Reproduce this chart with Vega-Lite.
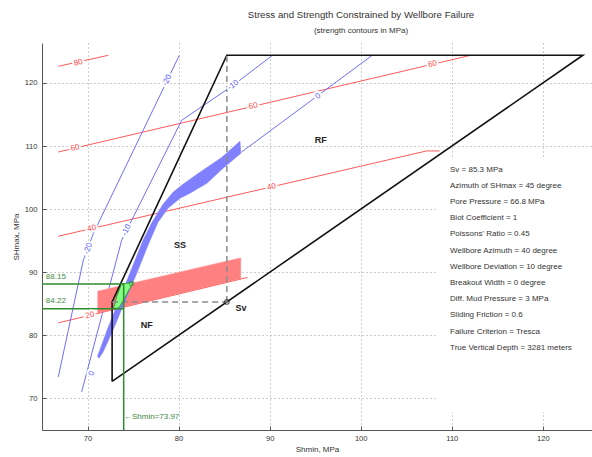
{
  "$schema": "https://vega.github.io/schema/vega-lite/v6.json",
  "width": 550,
  "height": 387,
  "autosize": {"type": "none"},
  "padding": {"left": 42, "top": 43, "right": 0, "bottom": 27},
  "background": "white",
  "title": {
    "text": "Stress and Strength Constrained by Wellbore Failure",
    "subtitle": "(strength contours in MPa)",
    "font": "Liberation Sans",
    "subtitleFont": "Liberation Sans",
    "fontSize": 9.7,
    "subtitleFontSize": 8,
    "fontWeight": "normal",
    "color": "#333333",
    "subtitleColor": "#333333",
    "anchor": "middle",
    "dx": 44,
    "offset": 8,
    "subtitlePadding": 7
  },
  "config": {
    "view": {"stroke": null},
    "font": "Liberation Sans",
    "axis": {
      "domainColor": "#555555",
      "tickColor": "#555555",
      "tickSize": -4,
      "labelColor": "#333333",
      "labelFont": "Liberation Sans",
      "labelFontSize": 7.6,
      "titleFont": "Liberation Sans",
      "titleFontSize": 8,
      "titleFontWeight": "normal",
      "titleColor": "#333333",
      "gridColor": "#9a9a9a",
      "gridDash": [1, 3],
      "gridWidth": 1
    }
  },
  "datasets": {
    "strength": [
      {"c": "80", "o": 1, "x": 66.79, "y": 122.65},
      {"c": "80", "o": 2, "x": 72.28, "y": 124.39},
      {"c": "60", "o": 1, "x": 66.79, "y": 109.07},
      {"c": "60", "o": 2, "x": 112.17, "y": 124.42},
      {"c": "40", "o": 1, "x": 66.79, "y": 95.71},
      {"c": "40", "o": 2, "x": 107.23, "y": 109.23},
      {"c": "40", "o": 3, "x": 108.66, "y": 109.23},
      {"c": "20", "o": 1, "x": 66.79, "y": 81.98},
      {"c": "20", "o": 2, "x": 87.54, "y": 89.17}
    ],
    "tensile": [
      {"c": "-20", "o": 1, "x": 66.79, "y": 73.42},
      {"c": "-20", "o": 2, "x": 67.89, "y": 80.82},
      {"c": "-20", "o": 3, "x": 69.54, "y": 91.91},
      {"c": "-20", "o": 4, "x": 70.64, "y": 96.14},
      {"c": "-20", "o": 5, "x": 80.08, "y": 124.39},
      {"c": "-10", "o": 1, "x": 69.36, "y": 71.05},
      {"c": "-10", "o": 2, "x": 73.75, "y": 95.08},
      {"c": "-10", "o": 3, "x": 74.85, "y": 98.25},
      {"c": "-10", "o": 4, "x": 80.34, "y": 114.09},
      {"c": "-10", "o": 5, "x": 86.0, "y": 119.64},
      {"c": "-10", "o": 6, "x": 90.33, "y": 124.42},
      {"c": "0", "o": 1, "x": 86.93, "y": 109.07},
      {"c": "0", "o": 2, "x": 101.3, "y": 124.42}
    ],
    "breakoutBand": [
      {"o": 1, "x": 71.12, "y": 83.47},
      {"o": 2, "x": 86.82, "y": 89.0},
      {"o": 3, "x": 86.82, "y": 92.28},
      {"o": 4, "x": 71.12, "y": 87.0}
    ],
    "tensileBand": [
      {"o": 1, "x": 71.10, "y": 76.70},
      {"o": 2, "x": 72.14, "y": 80.82},
      {"o": 3, "x": 73.46, "y": 85.57},
      {"o": 4, "x": 74.78, "y": 90.32},
      {"o": 5, "x": 76.09, "y": 95.08},
      {"o": 6, "x": 77.08, "y": 97.93},
      {"o": 7, "x": 78.29, "y": 100.78},
      {"o": 8, "x": 79.39, "y": 102.69},
      {"o": 9, "x": 80.48, "y": 103.95},
      {"o": 10, "x": 82.02, "y": 105.54},
      {"o": 11, "x": 84.76, "y": 108.23},
      {"o": 12, "x": 86.74, "y": 110.77},
      {"o": 13, "x": 86.85, "y": 108.87},
      {"o": 14, "x": 84.76, "y": 106.33},
      {"o": 15, "x": 83.12, "y": 104.11},
      {"o": 16, "x": 81.25, "y": 102.53},
      {"o": 17, "x": 80.15, "y": 101.73},
      {"o": 18, "x": 78.84, "y": 100.15},
      {"o": 19, "x": 77.74, "y": 97.93},
      {"o": 20, "x": 76.64, "y": 94.29},
      {"o": 21, "x": 75.32, "y": 89.53},
      {"o": 22, "x": 74.01, "y": 85.09},
      {"o": 23, "x": 72.80, "y": 80.82},
      {"o": 24, "x": 71.70, "y": 77.34},
      {"o": 25, "x": 71.26, "y": 76.39}
    ],
    "overlap": [
      {"o": 1, "x": 73.73, "y": 88.19},
      {"o": 2, "x": 74.99, "y": 88.35},
      {"o": 3, "x": 74.12, "y": 86.05},
      {"o": 4, "x": 73.46, "y": 84.39},
      {"o": 5, "x": 72.85, "y": 84.15},
      {"o": 6, "x": 73.18, "y": 86.05}
    ],
    "frictionLimit": [
      {"o": 1, "x": 72.7, "y": 72.7},
      {"o": 2, "x": 72.7, "y": 85.3},
      {"o": 3, "x": 85.3, "y": 124.4},
      {"o": 4, "x": 124.4, "y": 124.4},
      {"o": 5, "x": 72.7, "y": 72.7}
    ],
    "svGuides": [
      {"g": "h", "o": 1, "x": 72.7, "y": 85.3},
      {"g": "h", "o": 2, "x": 85.3, "y": 85.3},
      {"g": "v", "o": 1, "x": 85.3, "y": 85.3},
      {"g": "v", "o": 2, "x": 85.3, "y": 124.4}
    ],
    "solution": [
      {"g": "upper", "o": 1, "x": 65, "y": 88.15},
      {"g": "upper", "o": 2, "x": 73.97, "y": 88.15},
      {"g": "lower", "o": 1, "x": 65, "y": 84.22},
      {"g": "lower", "o": 2, "x": 73.97, "y": 84.22},
      {"g": "shmin", "o": 1, "x": 73.97, "y": 65},
      {"g": "shmin", "o": 2, "x": 73.97, "y": 88.15}
    ],
    "contourLabels": [
      {"t": "80", "x": 68.99, "y": 123.2, "segment": "strength"},
      {"t": "60", "x": 68.63, "y": 109.68, "segment": "strength"},
      {"t": "60", "x": 88.2, "y": 116.3, "segment": "strength"},
      {"t": "60", "x": 107.9, "y": 122.95, "segment": "strength"},
      {"t": "40", "x": 70.46, "y": 96.93, "segment": "strength"},
      {"t": "40", "x": 90.22, "y": 103.5, "segment": "strength"},
      {"t": "20", "x": 70.27, "y": 83.15, "segment": "strength"},
      {"t": "-10", "x": 86.0, "y": 119.64, "segment": "upper"},
      {"t": "0", "x": 95.33, "y": 117.9, "segment": "upper"},
      {"t": "-20", "x": 78.76, "y": 120.43, "segment": "middle"},
      {"t": "-10", "x": 74.3, "y": 96.67, "segment": "middle"},
      {"t": "-20", "x": 70.09, "y": 93.76, "segment": "lower"},
      {"t": "0", "x": 70.46, "y": 73.96, "segment": "lower"}
    ],
    "regions": [
      {"t": "RF", "x": 95.6, "y": 110.9},
      {"t": "SS", "x": 80.15, "y": 94.4},
      {"t": "NF", "x": 76.5, "y": 81.6},
      {"t": "Sv", "x": 86.85, "y": 84.3}
    ],
    "solutionLabels": [
      {"t": "88.15", "x": 66.52, "y": 89.27},
      {"t": "84.22", "x": 66.52, "y": 85.41}
    ],
    "shminLabel": [{"t": "\u2190Shmin=73.97", "x": 74.0, "y": 67.0}],
    "svPoint": [{"x": 85.3, "y": 85.3}],
    "overlapMarker": [{"x": 74.85, "y": 88.22}],
    "parameterBox": [{"x": 108.3, "x2": 125.4, "y": 67.8, "y2": 107.9}],
    "parameters": [
      {"x": 109.81, "y": 106.9, "text": "Sv = 85.3 MPa\nAzimuth of SHmax = 45 degree\nPore Pressure = 66.8 MPa\nBiot Coefficient = 1\nPoissons' Ratio = 0.45\nWellbore Azimuth = 40 degree\nWellbore Deviation = 10 degree\nBreakout Width = 0 degree\nDiff. Mud Pressure = 3 MPa\nSliding Friction = 0.6\nFailure Criterion = Tresca\nTrue Vertical Depth = 3281 meters"}
    ]
  },
  "encoding": {
    "x": {
      "field": "x",
      "type": "quantitative",
      "scale": {"domain": [65, 125.4], "nice": false, "zero": false},
      "axis": {"title": "Shmin, MPa", "values": [70, 80, 90, 100, 110, 120], "labelPadding": 8, "titlePadding": 4}
    },
    "y": {
      "field": "y",
      "type": "quantitative",
      "scale": {"domain": [65, 126.34], "nice": false, "zero": false},
      "axis": {"title": "SHmax, MPa", "values": [70, 80, 90, 100, 110, 120], "labelPadding": 9, "titlePadding": 4}
    }
  },
  "layer": [
    {
      "data": {"name": "parameterBox"},
      "mark": {"type": "rect", "fill": "white", "stroke": null},
      "encoding": {
        "x2": {"field": "x2"},
        "y2": {"field": "y2"}
      }
    },
    {
      "data": {"name": "strength"},
      "mark": {"type": "line", "color": "#ff5a5a", "strokeWidth": 1},
      "encoding": {"detail": {"field": "c"}, "order": {"field": "o"}}
    },
    {
      "data": {"name": "tensile"},
      "mark": {"type": "line", "color": "#6e6eff", "strokeWidth": 1},
      "encoding": {"detail": {"field": "c"}, "order": {"field": "o"}}
    },
    {
      "data": {"name": "breakoutBand"},
      "mark": {"type": "line", "interpolate": "linear-closed", "fill": "#ff8080", "stroke": "#ff8080", "strokeWidth": 0.5},
      "encoding": {"order": {"field": "o"}}
    },
    {
      "data": {"name": "tensileBand"},
      "mark": {"type": "line", "interpolate": "linear-closed", "fill": "#8080ff", "stroke": "#8080ff", "strokeWidth": 0.5},
      "encoding": {"order": {"field": "o"}}
    },
    {
      "data": {"name": "overlap"},
      "mark": {"type": "line", "interpolate": "linear-closed", "fill": "#80ff80", "stroke": "#3c9a3c", "strokeWidth": 1},
      "encoding": {"order": {"field": "o"}}
    },
    {
      "data": {"name": "frictionLimit"},
      "mark": {"type": "line", "color": "#111111", "strokeWidth": 1.6},
      "encoding": {"order": {"field": "o"}}
    },
    {
      "data": {"name": "svGuides"},
      "mark": {"type": "line", "color": "#8a8a8a", "strokeWidth": 1.5, "strokeDash": [6, 4]},
      "encoding": {"detail": {"field": "g"}, "order": {"field": "o"}}
    },
    {
      "data": {"name": "solution"},
      "mark": {"type": "line", "color": "#2e8b2e", "strokeWidth": 1.5},
      "encoding": {"detail": {"field": "g"}, "order": {"field": "o"}}
    },
    {
      "data": {"name": "overlapMarker"},
      "mark": {"type": "point", "shape": "circle", "size": 22, "filled": false, "color": "#2e8b2e", "strokeWidth": 1}
    },
    {
      "data": {"name": "svPoint"},
      "mark": {"type": "point", "shape": "circle", "size": 22, "filled": false, "color": "#222222", "strokeWidth": 1.2}
    },
    {
      "data": {"name": "contourLabels"},
      "transform": [{"filter": "datum.segment === 'strength'"}],
      "mark": {"type": "text", "angle": 347, "fontSize": 8, "stroke": "white", "strokeWidth": 4, "fill": "white"},
      "encoding": {"text": {"field": "t"}}
    },
    {
      "data": {"name": "contourLabels"},
      "transform": [{"filter": "datum.segment === 'strength'"}],
      "mark": {"type": "text", "angle": 347, "fontSize": 8, "color": "#ff4a4a"},
      "encoding": {"text": {"field": "t"}}
    },
    {
      "data": {"name": "contourLabels"},
      "transform": [{"filter": "datum.segment === 'upper'"}],
      "mark": {"type": "text", "angle": 324, "fontSize": 8, "stroke": "white", "strokeWidth": 4, "fill": "white"},
      "encoding": {"text": {"field": "t"}}
    },
    {
      "data": {"name": "contourLabels"},
      "transform": [{"filter": "datum.segment === 'upper'"}],
      "mark": {"type": "text", "angle": 324, "fontSize": 8, "color": "#5a5aff"},
      "encoding": {"text": {"field": "t"}}
    },
    {
      "data": {"name": "contourLabels"},
      "transform": [{"filter": "datum.segment === 'middle'"}],
      "mark": {"type": "text", "angle": 296, "fontSize": 8, "stroke": "white", "strokeWidth": 4, "fill": "white"},
      "encoding": {"text": {"field": "t"}}
    },
    {
      "data": {"name": "contourLabels"},
      "transform": [{"filter": "datum.segment === 'middle'"}],
      "mark": {"type": "text", "angle": 296, "fontSize": 8, "color": "#5a5aff"},
      "encoding": {"text": {"field": "t"}}
    },
    {
      "data": {"name": "contourLabels"},
      "transform": [{"filter": "datum.segment === 'lower'"}],
      "mark": {"type": "text", "angle": 289, "fontSize": 8, "stroke": "white", "strokeWidth": 4, "fill": "white"},
      "encoding": {"text": {"field": "t"}}
    },
    {
      "data": {"name": "contourLabels"},
      "transform": [{"filter": "datum.segment === 'lower'"}],
      "mark": {"type": "text", "angle": 289, "fontSize": 8, "color": "#5a5aff"},
      "encoding": {"text": {"field": "t"}}
    },
    {
      "data": {"name": "regions"},
      "mark": {"type": "text", "fontSize": 9, "fontWeight": "bold", "color": "#222222"},
      "encoding": {"text": {"field": "t"}}
    },
    {
      "data": {"name": "solutionLabels"},
      "mark": {"type": "text", "fontSize": 8, "color": "#3f8a3f"},
      "encoding": {"text": {"field": "t"}}
    },
    {
      "data": {"name": "shminLabel"},
      "mark": {"type": "text", "fontSize": 8, "color": "#3f8a3f", "align": "left"},
      "encoding": {"text": {"field": "t"}}
    },
    {
      "data": {"name": "parameters"},
      "mark": {"type": "text", "fontSize": 8, "color": "#333333", "align": "left", "baseline": "top", "lineBreak": "\n", "lineHeight": 16.2},
      "encoding": {"text": {"field": "text"}}
    }
  ]
}
